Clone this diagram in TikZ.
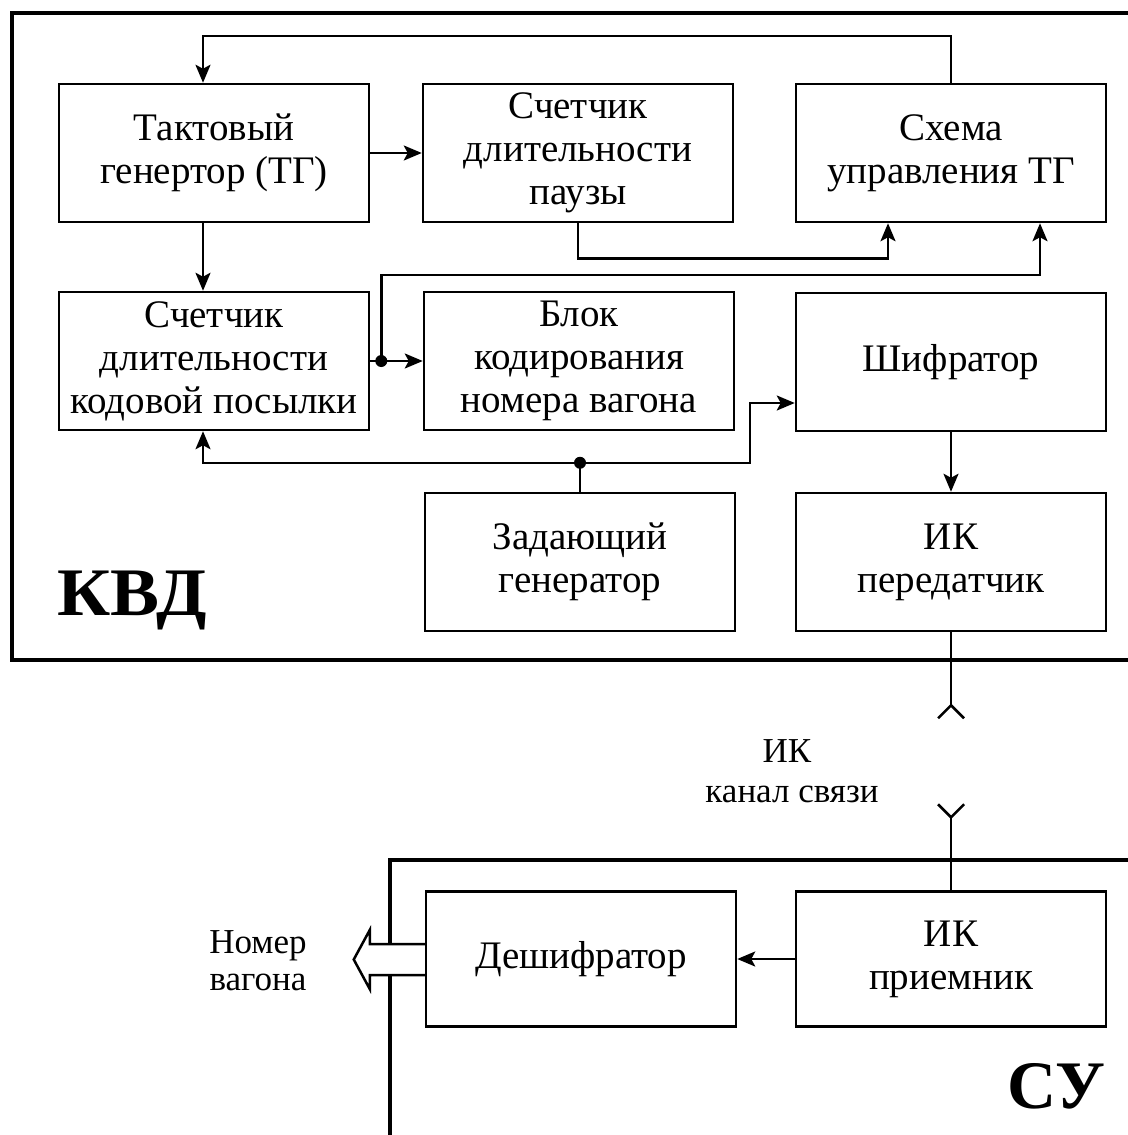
\documentclass[tikz,border=0pt]{standalone}
\usepackage{fontspec}
\setmainfont{Liberation Serif}
\usetikzlibrary{arrows.meta,calc}

\tikzset{
  blk/.style={draw, line width=2.5pt, minimum width=310pt, minimum height=138pt,
              align=center, inner sep=0pt, font=\fontsize{39}{43}\selectfont},
  link/.style={line width=2.5pt},
  arr/.style={line width=2.5pt, -{Stealth[length=18pt,width=15pt,inset=4pt]}},
  frame/.style={line width=4pt},
  dot/.style={circle, fill, inner sep=0pt, minimum size=12pt},
  lbl/.style={font=\fontsize{35}{40}\selectfont, inner sep=0pt},
  big/.style={font=\fontsize{68}{72}\selectfont\bfseries, inner sep=0pt}
}

\begin{document}
\begin{tikzpicture}[x=1pt,y=-1pt]
\useasboundingbox (0,0) rectangle (1127,1135);

% outer frames
\draw[frame] (1140,13) -- (12,13) -- (12,660) -- (1140,660);
\draw[frame] (1140,860) -- (390,860) -- (390,1145);

% blocks of the transmitter (KVD)
\node[blk] (tg) at (214,153) {Тактовый\\генертор (ТГ)};
\node[blk] (sp) at (578,153) {Счетчик\\длительности\\паузы};
\node[blk] (su) at (951,153) {Схема\\управления ТГ};
\node[blk] (sk) at (214,361) {Счетчик\\длительности\\кодовой посылки};
\node[blk] (bk) at (579,361) {Блок\\кодирования\\номера вагона};
\node[blk] (sh) at (951,362) {Шифратор};
\node[blk] (zg) at (580,562) {Задающий\\генератор};
\node[blk] (ik) at (951,562) {ИК\\передатчик};

% blocks of the receiver (SU)
\node[blk, minimum height=135pt] (de) at (581,959) {Дешифратор};
\node[blk, minimum height=135pt] (pr) at (951,959) {ИК\\приемник};

% clock generator feedback loop
\draw[arr] (su.north) -- ++(0,-47) -| ([xshift=-11pt]tg.north);
\draw[arr] (tg.east) -- (tg.east -| sp.west);
\draw[arr] ([xshift=-11pt]tg.south) -- ([xshift=-11pt]sk.north);
\draw[arr] (sp.south) -- ++(0,35) -| ([xshift=-63pt]su.south);

% code packet counter outputs
\coordinate (j1) at ([xshift=11pt]sk.east);
\draw[arr] (sk.east) -- (bk.west);
\draw[arr] (j1) -- ++(0,-86) -| ([xshift=89pt]su.south);
\node[dot] at (j1) {};

% master generator outputs
\coordinate (j2) at ($(zg.north)+(0,-29)$);
\draw[link] (zg.north) -- (j2);
\draw[arr] (j2) -| ([xshift=-11pt]sk.south);
\draw[arr] (j2) -| ([xshift=-45pt,yshift=-41pt]sh.west) -- ([yshift=-41pt]sh.west);
\node[dot] at (j2) {};

\draw[arr] (sh.south) -- (ik.north);

% IR link antennas
\draw[link] (ik.south) -- ++(0,73) coordinate (a1);
\draw[link] ($(a1)+(-13,13)$) -- (a1) -- ($(a1)+(13,13)$);
\draw[link] (pr.north) -- ++(0,-73) coordinate (a2);
\draw[link] ($(a2)+(-13,-13)$) -- (a2) -- ($(a2)+(13,-13)$);

\draw[arr] (pr.west) -- (de.east);

% wide output arrow
\draw[link, fill=white, line join=miter]
  ($(de.west)+(0,-15)$) -- ++(-55,0) -- ++(0,-14) -- ++(-16,29.5)
  -- ++(16,29.5) -- ++(0,-14) -- ++(55,0);

% labels
\node[big, anchor=base west] (kvd) at (57,615) {\scalebox{1.08}[1]{КВД}};
\node[big, anchor=base east] (suf) at (1106,1108) {СУ};
\node[lbl, anchor=base] (ik1) at (787,762) {ИК};
\node[lbl, anchor=base] (ik2) at (792,802) {канал связи};
\node[lbl, anchor=base] (nm1) at (258,953) {Номер};
\node[lbl, anchor=base] (nm2) at (258,990) {вагона};
\end{tikzpicture}
\end{document}
